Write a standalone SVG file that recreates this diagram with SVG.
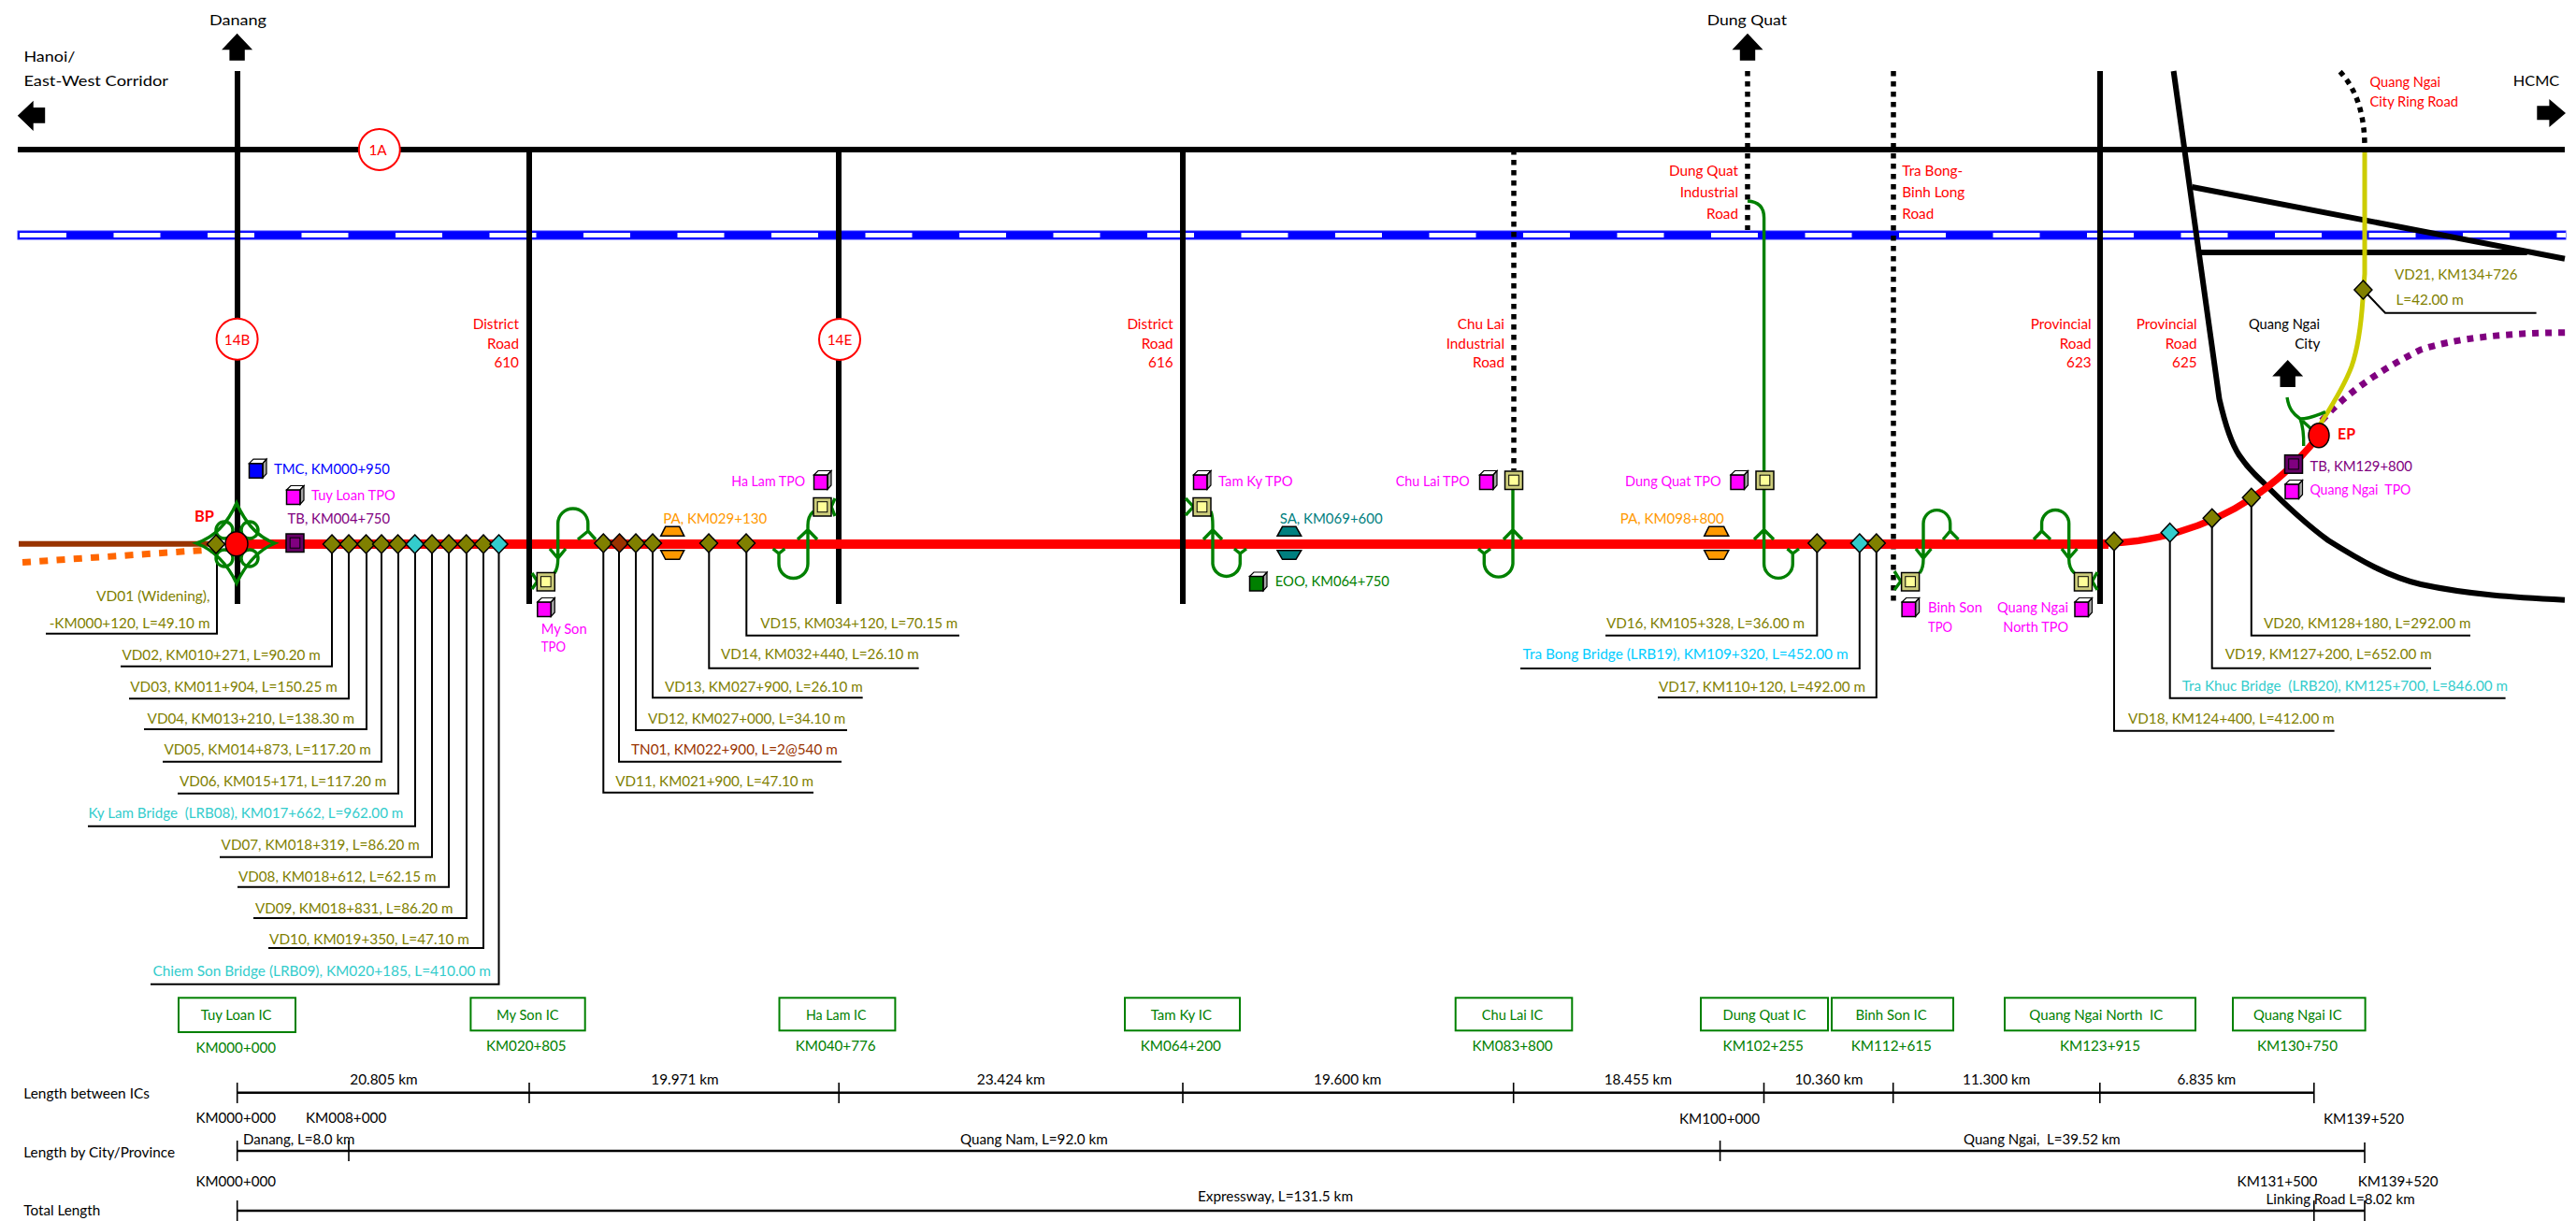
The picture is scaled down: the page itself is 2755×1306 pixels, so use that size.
<svg xmlns="http://www.w3.org/2000/svg" width="2755" height="1306" viewBox="0 0 2755 1306">
<style>
text{font-family:"Lato","Open Sans",sans-serif;font-size:14.5px;white-space:pre}
.big{font-size:16px}
.lab{font-size:15.3px}
.r{fill:#ff0000}.k{fill:#000}.ol{fill:#808000}.cy{fill:#33cccc}.lb{fill:#00ccff}.mg{fill:#ff00ff}.bl{fill:#0000ff}.pu{fill:#800080}.or{fill:#ff9900}.te{fill:#008080}.gn{fill:#008000}.br{fill:#993300}
.bd{font-weight:700;font-size:17px}
.road{fill:none;stroke:#000;stroke-width:6}
.dot{fill:none;stroke:#000;stroke-width:5.5;stroke-dasharray:5.5 5.5}
.ramp{fill:none;stroke:#008000;stroke-width:3.4}
.lead{fill:none;stroke:#000;stroke-width:2}
.tick{fill:none;stroke:#000;stroke-width:1.6}
.scale{fill:none;stroke:#000;stroke-width:2.4}
.ic{fill:#fff;stroke:#008000;stroke-width:2}
.sh{stroke:#000;stroke-width:1.5}
.rc{fill:#fff;stroke:#ff0000;stroke-width:2}
</style>
<defs>
<polygon id="d" class="sh" points="0,-10 9.5,0 0,10 -9.5,0"/>
<g id="cube"><path class="sh" d="M0.5 5H15V20.5H0.5Z"/><path d="M0.5 5L5 0.5H19L15 5Z" stroke="#000" stroke-width="1.2" fill="#fff" fill-opacity=".25"/><path d="M15 5L19 0.5V16L15 20.5Z" stroke="#000" stroke-width="1.2" fill="#000" fill-opacity=".35"/></g>
<g id="tp"><rect class="sh" x="0" y="0" width="19" height="19.5"/><rect x="0" y="0" width="19" height="19.5" fill="#000" fill-opacity=".2"/><rect x="4.2" y="4.2" width="10.6" height="11" stroke="#000" stroke-width="1"/></g>
<path id="ar-up" d="M0 0L16.5 17.6H8.2V29H-8.2V17.6H-16.5Z"/>
</defs>

<g id="roads-under">
<path class="road" d="M19 160H2743"/>
<rect x="19" y="247" width="2725" height="9" fill="#0000ff" stroke="#3333ff" stroke-width="1"/>
<path d="M21 251.5H2744" stroke="#fff" stroke-width="5" stroke-dasharray="50 50.5" fill="none"/>
<path class="road" d="M254 76V646"/>
<path class="road" d="M897 160V646"/>
<path class="dot" d="M1619 160V503"/>
<path class="dot" d="M1869 76V246"/>
<path class="dot" d="M2025 76V646"/>
<path class="road" d="M2324.6 76L2373.5 426.7C2380 455 2386 474 2394.7 486.7C2405 502 2412 508 2419.5 515C2445 541 2468 562 2490 578C2525 600 2555 617 2589 625C2640 636 2690 639 2743 641.7"/>
<path class="road" d="M2344.4 200L2743 276.7"/>
<path class="road" d="M2354 270H2702.7"/>
<path fill="none" stroke="#800080" stroke-width="7" stroke-dasharray="7 7" d="M2483 450C2510 420 2545 396 2589 374C2625 362 2680 356 2744 355.7"/>
<path class="dot" d="M2502.6 76.7Q2529 105 2529 157"/>
<path fill="none" stroke="#cccc00" stroke-width="5" d="M2529 163V293L2527 320C2525 350 2522 372 2515 392C2506 416 2490 440 2480 456"/>
</g>

<g id="expressway">
<path fill="none" stroke="#993300" stroke-width="6" d="M20 581.7H226"/>
<path fill="none" stroke="#ff6600" stroke-width="7" stroke-dasharray="9 9.3" d="M24 601.5L240 587"/>
<path fill="none" stroke="#ff0000" stroke-width="10" d="M254 582H2255"/>
<path fill="none" stroke="#ff0000" stroke-width="7.5" d="M2250 581C2300 581 2360 565 2408 533C2440 512 2465 485 2480 466"/>
</g>
<g id="roads-over">
<path class="road" d="M566 160V646"/>
<path class="road" d="M1265 160V646"/>
<path class="road" d="M2246 76V646"/>
</g>

<g id="connectors">
<path class="lead" d="M232 590V677.7H49"/>
<path class="lead" d="M355 590V712.7H129"/>
<path class="lead" d="M373 590V747.3H138"/>
<path class="lead" d="M392 590V780H154"/>
<path class="lead" d="M408 590V814.7H174"/>
<path class="lead" d="M426 590V848.7H190"/>
<path class="lead" d="M444 590V883.7H94"/>
<path class="lead" d="M462 590V916.7H235"/>
<path class="lead" d="M480 590V948.7H254"/>
<path class="lead" d="M499 590V982H271"/>
<path class="lead" d="M517 590V1014H287"/>
<path class="lead" d="M533.5 590V1052.7H161"/>
<path class="lead" d="M645.3 590V847.7H870"/>
<path class="lead" d="M662 590V814.7H900"/>
<path class="lead" d="M680 590V781H906"/>
<path class="lead" d="M698 590V746.3H922.7"/>
<path class="lead" d="M758.3 590V714.7H982.7"/>
<path class="lead" d="M798.3 590V679.7H1026"/>
<path class="lead" d="M1943.3 590V679.7H1717"/>
<path class="lead" d="M1988.8 590V715H1626"/>
<path class="lead" d="M2006.8 590V746H1773"/>
<path class="lead" d="M2261 588V781.7H2496.6"/>
<path class="lead" d="M2320.7 578V746.7H2679.6"/>
<path class="lead" d="M2365.7 562V714.7H2600"/>
<path class="lead" d="M2407.8 540V679.7H2642"/>
<path class="lead" d="M2527.4 310L2551 334.7H2712.6"/>
</g>

<g id="tuy-loan-ic">
<path class="ramp" d="M253 538Q238 572 210 581Q238 592 253 624Q268 592 294 581Q268 572 253 538Z"/>
<circle class="ramp" cx="240" cy="567" r="9"/><circle class="ramp" cx="267" cy="567" r="9"/><circle class="ramp" cx="240" cy="597" r="9"/><circle class="ramp" cx="267" cy="597" r="9"/>
<ellipse class="r sh" cx="253" cy="581.7" rx="12" ry="13"/>
<text class="r bd" x="208" y="558" textLength="21" lengthAdjust="spacingAndGlyphs">BP</text>
</g>
<g id="ramps">
<path class="ramp" d="M593 613Q596.7 608 596.7 598V560A16 16 0 0 1 628.8 560V568M618 577L629 568L637 577M588 587L596.7 597L605 587M569 613L574.7 621.7L569 630"/>
<path class="ramp" d="M870 547Q864 552 864 562V603A15.5 15.5 0 0 1 833 603V592M853 577L864 566.7L874 577M826.7 587L833 592L839.3 587M893 533L889 542L893 552"/>
<path class="ramp" d="M1295 547Q1297 552 1297 562V603A14.7 14.7 0 0 0 1326.3 603V592M1287 577L1297 566.7L1307 577M1320 587L1326.3 592L1333 587M1268 533L1276.5 542L1268 551"/>
<path class="ramp" d="M1618 524V603A15.4 15.4 0 0 1 1587.3 603V592M1608 577L1618 566.7L1628 577M1581 587L1587.3 592L1594 587"/>
<path class="ramp" d="M1869 215Q1886.6 216 1886.6 233V603A15.3 15.3 0 0 0 1917.3 603V592M1876 577L1886.6 566.7L1897 577M1911.5 587L1917.3 592L1924 587"/>
<path class="ramp" d="M2053 613Q2057 608 2057 598V560A14.3 14.3 0 0 1 2085.7 560V568M2078 577L2085.7 568L2094.5 577M2049 587L2057 597L2065.4 587M2026 611L2032.8 621.7L2026 631"/>
<path class="ramp" d="M2218.5 613Q2212.7 608 2212.7 598V560A14.5 14.5 0 0 0 2183.6 560V568M2175 577L2183.6 568L2193 577M2205 587L2212.7 597L2221.5 587M2243 612L2237.6 621.7L2243 631"/>
<path class="ramp" d="M2446 425C2448 438 2453 443 2460 448C2463 456 2464 466 2463.7 477M2460 448C2470 448 2478 444 2487 440.7M2460 448L2471 458"/>
</g>
<g id="ep-point">
<ellipse class="r sh" cx="2480" cy="465.7" rx="11" ry="13"/>
<text class="r bd" x="2500" y="470" textLength="19" lengthAdjust="spacingAndGlyphs">EP</text>
</g>

<g id="structures">
<use href="#d" class="ol" x="231" y="582"/><use href="#d" class="ol" x="355" y="582"/><use href="#d" class="ol" x="373" y="582"/><use href="#d" class="ol" x="391.5" y="582"/><use href="#d" class="ol" x="408" y="582"/><use href="#d" class="ol" x="425.5" y="582"/><use href="#d" class="cy" x="443.7" y="582"/><use href="#d" class="ol" x="462" y="582"/><use href="#d" class="ol" x="480" y="582"/><use href="#d" class="ol" x="498.7" y="582"/><use href="#d" class="ol" x="517" y="582"/><use href="#d" class="cy" x="533.5" y="582"/>
<use href="#d" class="ol" x="645.3" y="581"/><use href="#d" class="br" x="662.5" y="581"/><use href="#d" class="ol" x="680" y="581"/><use href="#d" class="ol" x="698" y="581"/><use href="#d" class="ol" x="758" y="581"/><use href="#d" class="ol" x="798" y="581"/>
<use href="#d" class="ol" x="1943.3" y="581"/><use href="#d" class="cy" x="1988.8" y="581"/><use href="#d" class="ol" x="2006.8" y="581"/>
<use href="#d" class="ol" x="2261" y="579"/><use href="#d" class="cy" x="2320.7" y="569.7"/><use href="#d" class="ol" x="2365.7" y="554.3"/><use href="#d" class="ol" x="2407.8" y="532.3"/><use href="#d" class="ol" x="2527.4" y="310"/>
</g>

<g id="facilities">
<use href="#cube" class="bl" x="266" y="490.7"/>
<use href="#cube" class="mg" x="306" y="519"/>
<use href="#tp" class="pu" x="306" y="571"/>
<use href="#tp" fill="#ffff99" x="574.3" y="612.5"/>
<use href="#cube" class="mg" x="574.3" y="639"/>
<use href="#tp" fill="#ffff99" x="870" y="532.5"/>
<use href="#cube" class="mg" x="870" y="503"/>
<use href="#tp" fill="#ffff99" x="1276" y="532.5"/>
<use href="#cube" class="mg" x="1276" y="503"/>
<use href="#cube" class="gn" x="1336" y="611.5"/>
<use href="#tp" fill="#ffff99" x="1609.5" y="504"/>
<use href="#cube" class="mg" x="1582" y="503"/>
<use href="#tp" fill="#ffff99" x="1878" y="504"/>
<use href="#cube" class="mg" x="1850.5" y="503"/>
<use href="#tp" fill="#ffff99" x="2033.6" y="612.5"/>
<use href="#cube" class="mg" x="2033.6" y="639"/>
<use href="#tp" fill="#ffff99" x="2218.5" y="612.5"/>
<use href="#cube" class="mg" x="2218.5" y="639"/>
<use href="#tp" class="pu" x="2443.5" y="486.7"/>
<use href="#cube" class="mg" x="2443.5" y="513"/>
<path class="or sh" d="M711.7 563.3H726.7L731.7 573.3H706.7ZM706.7 588.7H731.7L726.7 598.3H711.7Z"/>
<path class="or sh" d="M1827.7 563.3H1843.7L1848.8 573.3H1822.7ZM1822.7 588.7H1848.8L1843.7 598.3H1827.7Z"/>
<path class="te sh" d="M1371.5 563.3H1386L1391.7 573.3H1366ZM1366 588.7H1391.7L1386 598.3H1371.5Z"/>
</g>

<g id="direction-arrows">
<use href="#ar-up" x="253.6" y="35.7"/>
<use href="#ar-up" x="1869" y="35.7"/>
<use href="#ar-up" x="2446.7" y="385"/>
<path d="M18.8 123.7L35.7 107.7V115H48.2V131.7H35.7V140Z"/>
<path d="M2744 121L2726.4 106V113.3H2713.3V128.3H2726.4V136Z"/>
</g>

<g id="route-markers">
<circle class="rc" cx="405.8" cy="160" r="22"/><text class="r lab" x="404" y="165.5" text-anchor="middle">1A</text>
<circle class="rc" cx="253.6" cy="362.7" r="22"/><text class="r lab" x="253.6" y="368.5" text-anchor="middle">14B</text>
<circle class="rc" cx="898" cy="363" r="22"/><text class="r lab" x="898" y="368.5" text-anchor="middle">14E</text>
</g>

<g id="road-labels">
<text class="k big" x="25.4" y="66" textLength="55" lengthAdjust="spacingAndGlyphs">Hanoi/</text>
<text class="k big" x="25.4" y="92" textLength="154.6" lengthAdjust="spacingAndGlyphs">East-West Corridor</text>
<text class="k big" x="224" y="27" textLength="61" lengthAdjust="spacingAndGlyphs">Danang</text>
<text class="k big" x="1825.7" y="27" textLength="85.3" lengthAdjust="spacingAndGlyphs">Dung Quat</text>
<text class="k big" x="2687.8" y="92" textLength="49.5" lengthAdjust="spacingAndGlyphs">HCMC</text>
<text class="k lab" x="2405" y="352" textLength="76" lengthAdjust="spacingAndGlyphs">Quang Ngai</text>
<text class="k lab" x="2481.4" y="373" text-anchor="end">City</text>
<text class="r lab" x="555" y="352" text-anchor="end">District</text><text class="r lab" x="555" y="373" text-anchor="end">Road</text><text class="r lab" x="555" y="393" text-anchor="end">610</text>
<text class="r lab" x="1254.7" y="352" text-anchor="end">District</text><text class="r lab" x="1254.7" y="373" text-anchor="end">Road</text><text class="r lab" x="1254.7" y="393" text-anchor="end">616</text>
<text class="r lab" x="1609" y="352" text-anchor="end">Chu Lai</text><text class="r lab" x="1609" y="373" text-anchor="end">Industrial</text><text class="r lab" x="1609" y="393" text-anchor="end">Road</text>
<text class="r lab" x="1859" y="188" text-anchor="end">Dung Quat</text><text class="r lab" x="1859" y="211" text-anchor="end">Industrial</text><text class="r lab" x="1859" y="234" text-anchor="end">Road</text>
<text class="r lab" x="2034.3" y="188">Tra Bong-</text><text class="r lab" x="2034.3" y="211">Binh Long</text><text class="r lab" x="2034.3" y="234">Road</text>
<text class="r lab" x="2236.7" y="352" text-anchor="end">Provincial</text><text class="r lab" x="2236.7" y="373" text-anchor="end">Road</text><text class="r lab" x="2236.7" y="393" text-anchor="end">623</text>
<text class="r lab" x="2349.7" y="352" text-anchor="end">Provincial</text><text class="r lab" x="2349.7" y="373" text-anchor="end">Road</text><text class="r lab" x="2349.7" y="393" text-anchor="end">625</text>
<text class="r" x="2534.5" y="93" textLength="75.5" lengthAdjust="spacingAndGlyphs">Quang Ngai</text>
<text class="r" x="2534.5" y="114" textLength="94.5" lengthAdjust="spacingAndGlyphs">City Ring Road</text>
</g>

<g id="facility-labels">
<text class="bl" x="292.9" y="507" textLength="124.1" lengthAdjust="spacingAndGlyphs">TMC, KM000+950</text>
<text class="mg" x="333" y="535" textLength="89.8" lengthAdjust="spacingAndGlyphs">Tuy Loan TPO</text>
<text class="pu" x="307.6" y="560" textLength="109.4" lengthAdjust="spacingAndGlyphs">TB, KM004+750</text>
<text class="mg" x="578.7" y="678" textLength="49" lengthAdjust="spacingAndGlyphs">My Son</text>
<text class="mg" x="578.7" y="697" textLength="26.3" lengthAdjust="spacingAndGlyphs">TPO</text>
<text class="or" x="709.3" y="560" textLength="111" lengthAdjust="spacingAndGlyphs">PA, KM029+130</text>
<text class="mg" x="782.3" y="520" textLength="78.7" lengthAdjust="spacingAndGlyphs">Ha Lam TPO</text>
<text class="mg" x="1303" y="520" textLength="79.5" lengthAdjust="spacingAndGlyphs">Tam Ky TPO</text>
<text class="te" x="1368.8" y="560" textLength="109.8" lengthAdjust="spacingAndGlyphs">SA, KM069+600</text>
<text class="gn" x="1363.8" y="627" textLength="122.1" lengthAdjust="spacingAndGlyphs">EOO, KM064+750</text>
<text class="mg" x="1492.8" y="520" textLength="78.8" lengthAdjust="spacingAndGlyphs">Chu Lai TPO</text>
<text class="mg" x="1738" y="520" textLength="102.7" lengthAdjust="spacingAndGlyphs">Dung Quat TPO</text>
<text class="or" x="1732.8" y="560" textLength="111" lengthAdjust="spacingAndGlyphs">PA, KM098+800</text>
<text class="mg" x="2062" y="655" textLength="58" lengthAdjust="spacingAndGlyphs">Binh Son</text>
<text class="mg" x="2062" y="676" textLength="26" lengthAdjust="spacingAndGlyphs">TPO</text>
<text class="mg" x="2136" y="655" textLength="76" lengthAdjust="spacingAndGlyphs">Quang Ngai</text>
<text class="mg" x="2142.3" y="676" textLength="69.7" lengthAdjust="spacingAndGlyphs">North TPO</text>
<text class="pu" x="2470.4" y="503.7" textLength="109.6" lengthAdjust="spacingAndGlyphs">TB, KM129+800</text>
<text class="mg" x="2470.4" y="529" textLength="108" lengthAdjust="spacingAndGlyphs">Quang Ngai  TPO</text>
</g>

<g id="structure-labels">
<text class="ol" x="103" y="643" textLength="121.5" lengthAdjust="spacingAndGlyphs">VD01 (Widening),</text>
<text class="ol" x="52.7" y="672" textLength="171.8" lengthAdjust="spacingAndGlyphs">-KM000+120, L=49.10 m</text>
<text class="ol" x="130.4" y="706.3" textLength="212.5" lengthAdjust="spacingAndGlyphs">VD02, KM010+271, L=90.20 m</text>
<text class="ol" x="139.3" y="740.3" textLength="221.4" lengthAdjust="spacingAndGlyphs">VD03, KM011+904, L=150.25 m</text>
<text class="ol" x="157.6" y="774.3" textLength="221.4" lengthAdjust="spacingAndGlyphs">VD04, KM013+210, L=138.30 m</text>
<text class="ol" x="175.4" y="807.3" textLength="221.5" lengthAdjust="spacingAndGlyphs">VD05, KM014+873, L=117.20 m</text>
<text class="ol" x="192" y="841.3" textLength="221.4" lengthAdjust="spacingAndGlyphs">VD06, KM015+171, L=117.20 m</text>
<text class="cy" x="94.6" y="875.3" textLength="336.7" lengthAdjust="spacingAndGlyphs">Ky Lam Bridge  (LRB08), KM017+662, L=962.00 m</text>
<text class="ol" x="236.6" y="909.3" textLength="212.1" lengthAdjust="spacingAndGlyphs">VD07, KM018+319, L=86.20 m</text>
<text class="ol" x="255" y="943.3" textLength="211.5" lengthAdjust="spacingAndGlyphs">VD08, KM018+612, L=62.15 m</text>
<text class="ol" x="273" y="977.3" textLength="211.4" lengthAdjust="spacingAndGlyphs">VD09, KM018+831, L=86.20 m</text>
<text class="ol" x="288" y="1010" textLength="214" lengthAdjust="spacingAndGlyphs">VD10, KM019+350, L=47.10 m</text>
<text class="cy" x="163.4" y="1044" textLength="361.6" lengthAdjust="spacingAndGlyphs">Chiem Son Bridge (LRB09), KM020+185, L=410.00 m</text>
<text class="ol" x="658.3" y="841" textLength="211.7" lengthAdjust="spacingAndGlyphs">VD11, KM021+900, L=47.10 m</text>
<text class="br" x="675" y="807" textLength="220.7" lengthAdjust="spacingAndGlyphs">TN01, KM022+900, L=2@540 m</text>
<text class="ol" x="693" y="774" textLength="211.3" lengthAdjust="spacingAndGlyphs">VD12, KM027+000, L=34.10 m</text>
<text class="ol" x="711" y="740" textLength="211.7" lengthAdjust="spacingAndGlyphs">VD13, KM027+900, L=26.10 m</text>
<text class="ol" x="771" y="705.3" textLength="211.7" lengthAdjust="spacingAndGlyphs">VD14, KM032+440, L=26.10 m</text>
<text class="ol" x="813.3" y="672" textLength="211" lengthAdjust="spacingAndGlyphs">VD15, KM034+120, L=70.15 m</text>
<text class="ol" x="1717.9" y="672" textLength="212.1" lengthAdjust="spacingAndGlyphs">VD16, KM105+328, L=36.00 m</text>
<text class="lb" x="1628.6" y="705" textLength="348" lengthAdjust="spacingAndGlyphs">Tra Bong Bridge (LRB19), KM109+320, L=452.00 m</text>
<text class="ol" x="1774" y="740" textLength="221" lengthAdjust="spacingAndGlyphs">VD17, KM110+120, L=492.00 m</text>
<text class="ol" x="2276" y="774" textLength="220.6" lengthAdjust="spacingAndGlyphs">VD18, KM124+400, L=412.00 m</text>
<text class="cy" x="2333.8" y="739" textLength="348.2" lengthAdjust="spacingAndGlyphs">Tra Khuc Bridge  (LRB20), KM125+700, L=846.00 m</text>
<text class="ol" x="2379.8" y="705" textLength="220.9" lengthAdjust="spacingAndGlyphs">VD19, KM127+200, L=652.00 m</text>
<text class="ol" x="2421" y="672" textLength="221.5" lengthAdjust="spacingAndGlyphs">VD20, KM128+180, L=292.00 m</text>
<text class="ol" x="2561" y="299" textLength="131.4" lengthAdjust="spacingAndGlyphs">VD21, KM134+726</text>
<text class="ol" x="2562.5" y="326" textLength="72.2" lengthAdjust="spacingAndGlyphs">L=42.00 m</text>
</g>

<g id="ic-tuy-loan"><rect class="ic" x="191" y="1067.3" width="125" height="36.7"/><text class="gn" x="214.7" y="1091" textLength="75.8" lengthAdjust="spacingAndGlyphs">Tuy Loan IC</text><text class="gn" x="209.5" y="1126.3" textLength="85.5" lengthAdjust="spacingAndGlyphs">KM000+000</text></g>
<g id="ic-my-son"><rect class="ic" x="503.4" y="1067.3" width="122.3" height="35"/><text class="gn" x="531" y="1091" textLength="66.6" lengthAdjust="spacingAndGlyphs">My Son IC</text><text class="gn" x="520" y="1124.3" textLength="85.6" lengthAdjust="spacingAndGlyphs">KM020+805</text></g>
<g id="ic-ha-lam"><rect class="ic" x="833.5" y="1067.3" width="123.9" height="35"/><text class="gn" x="862" y="1091" textLength="64.4" lengthAdjust="spacingAndGlyphs">Ha Lam IC</text><text class="gn" x="850.7" y="1124.3" textLength="86" lengthAdjust="spacingAndGlyphs">KM040+776</text></g>
<g id="ic-tam-ky"><rect class="ic" x="1203" y="1067.3" width="123" height="35"/><text class="gn" x="1230.7" y="1091" textLength="65.3" lengthAdjust="spacingAndGlyphs">Tam Ky IC</text><text class="gn" x="1219.7" y="1124.3" textLength="86.2" lengthAdjust="spacingAndGlyphs">KM064+200</text></g>
<g id="ic-chu-lai"><rect class="ic" x="1556.7" y="1067.3" width="124.6" height="35"/><text class="gn" x="1584.8" y="1091" textLength="65.5" lengthAdjust="spacingAndGlyphs">Chu Lai IC</text><text class="gn" x="1574.5" y="1124.3" textLength="86.1" lengthAdjust="spacingAndGlyphs">KM083+800</text></g>
<g id="ic-dung-quat"><rect class="ic" x="1819" y="1067.3" width="136" height="35"/><text class="gn" x="1842.6" y="1091" textLength="88.9" lengthAdjust="spacingAndGlyphs">Dung Quat IC</text><text class="gn" x="1842.6" y="1124.3" textLength="86.4" lengthAdjust="spacingAndGlyphs">KM102+255</text></g>
<g id="ic-binh-son"><rect class="ic" x="1959" y="1067.3" width="130" height="35"/><text class="gn" x="1984.5" y="1091" textLength="76.2" lengthAdjust="spacingAndGlyphs">Binh Son IC</text><text class="gn" x="1979.7" y="1124.3" textLength="86.3" lengthAdjust="spacingAndGlyphs">KM112+615</text></g>
<g id="ic-quang-ngai-north"><rect class="ic" x="2144" y="1067.3" width="204" height="35"/><text class="gn" x="2170.3" y="1091" textLength="143.1" lengthAdjust="spacingAndGlyphs">Quang Ngai North  IC</text><text class="gn" x="2203" y="1124.3" textLength="86" lengthAdjust="spacingAndGlyphs">KM123+915</text></g>
<g id="ic-quang-ngai"><rect class="ic" x="2388" y="1067.3" width="141.6" height="35"/><text class="gn" x="2410" y="1091" textLength="94.6" lengthAdjust="spacingAndGlyphs">Quang Ngai IC</text><text class="gn" x="2413.9" y="1124.3" textLength="86.1" lengthAdjust="spacingAndGlyphs">KM130+750</text></g>

<g id="length-between-ics">
<text class="k" x="25.3" y="1175" textLength="134.7" lengthAdjust="spacingAndGlyphs">Length between ICs</text>
<path class="scale" d="M253.7 1168.7H2474.8"/>
<path class="tick" d="M253.7 1158V1180M566 1158V1180M897.2 1158V1180M1265 1158V1180M1618.7 1158V1180M1886.5 1158V1180M2024.7 1158V1180M2245.8 1158V1180M2474.8 1158V1180"/>
<text class="k" x="374.3" y="1160" textLength="72.3" lengthAdjust="spacingAndGlyphs">20.805 km</text>
<text class="k" x="696.3" y="1160" textLength="72.3" lengthAdjust="spacingAndGlyphs">19.971 km</text>
<text class="k" x="1044.7" y="1160" textLength="72.9" lengthAdjust="spacingAndGlyphs">23.424 km</text>
<text class="k" x="1405" y="1160" textLength="72.5" lengthAdjust="spacingAndGlyphs">19.600 km</text>
<text class="k" x="1715.7" y="1160" textLength="72.3" lengthAdjust="spacingAndGlyphs">18.455 km</text>
<text class="k" x="1919.4" y="1160" textLength="73" lengthAdjust="spacingAndGlyphs">10.360 km</text>
<text class="k" x="2099" y="1160" textLength="72.5" lengthAdjust="spacingAndGlyphs">11.300 km</text>
<text class="k" x="2328.6" y="1160" textLength="62.7" lengthAdjust="spacingAndGlyphs">6.835 km</text>
</g>

<g id="length-by-province">
<text class="k" x="25.3" y="1238" textLength="161.7" lengthAdjust="spacingAndGlyphs">Length by City/Province</text>
<path class="scale" d="M253.7 1231H2529"/>
<path class="tick" d="M253.7 1220V1242M373 1220V1242M1839.6 1220V1242M2529 1222V1244"/>
<text class="k" x="209.5" y="1201.3" textLength="85.5" lengthAdjust="spacingAndGlyphs">KM000+000</text>
<text class="k" x="327" y="1201.3" textLength="86.3" lengthAdjust="spacingAndGlyphs">KM008+000</text>
<text class="k" x="1796" y="1202" textLength="86" lengthAdjust="spacingAndGlyphs">KM100+000</text>
<text class="k" x="2485" y="1202" textLength="86" lengthAdjust="spacingAndGlyphs">KM139+520</text>
<text class="k" x="260" y="1223.7" textLength="119.5" lengthAdjust="spacingAndGlyphs">Danang, L=8.0 km</text>
<text class="k" x="1026.9" y="1223.7" textLength="157.8" lengthAdjust="spacingAndGlyphs">Quang Nam, L=92.0 km</text>
<text class="k" x="2100" y="1223.7" textLength="167.7" lengthAdjust="spacingAndGlyphs">Quang Ngai,  L=39.52 km</text>
</g>

<g id="total-length">
<text class="k" x="25.3" y="1300" textLength="82" lengthAdjust="spacingAndGlyphs">Total Length</text>
<path class="scale" d="M253.7 1295H2529"/>
<path class="tick" d="M253.7 1284V1306M2474.8 1284V1306M2529 1284V1306"/>
<text class="k" x="209.5" y="1269" textLength="85.5" lengthAdjust="spacingAndGlyphs">KM000+000</text>
<text class="k" x="2392.6" y="1269" textLength="85.8" lengthAdjust="spacingAndGlyphs">KM131+500</text>
<text class="k" x="2521.7" y="1269" textLength="85.9" lengthAdjust="spacingAndGlyphs">KM139+520</text>
<text class="k" x="1281" y="1285" textLength="166" lengthAdjust="spacingAndGlyphs">Expressway, L=131.5 km</text>
<text class="k" x="2423.6" y="1288" textLength="159" lengthAdjust="spacingAndGlyphs">Linking Road L=8.02 km</text>
</g>
</svg>
